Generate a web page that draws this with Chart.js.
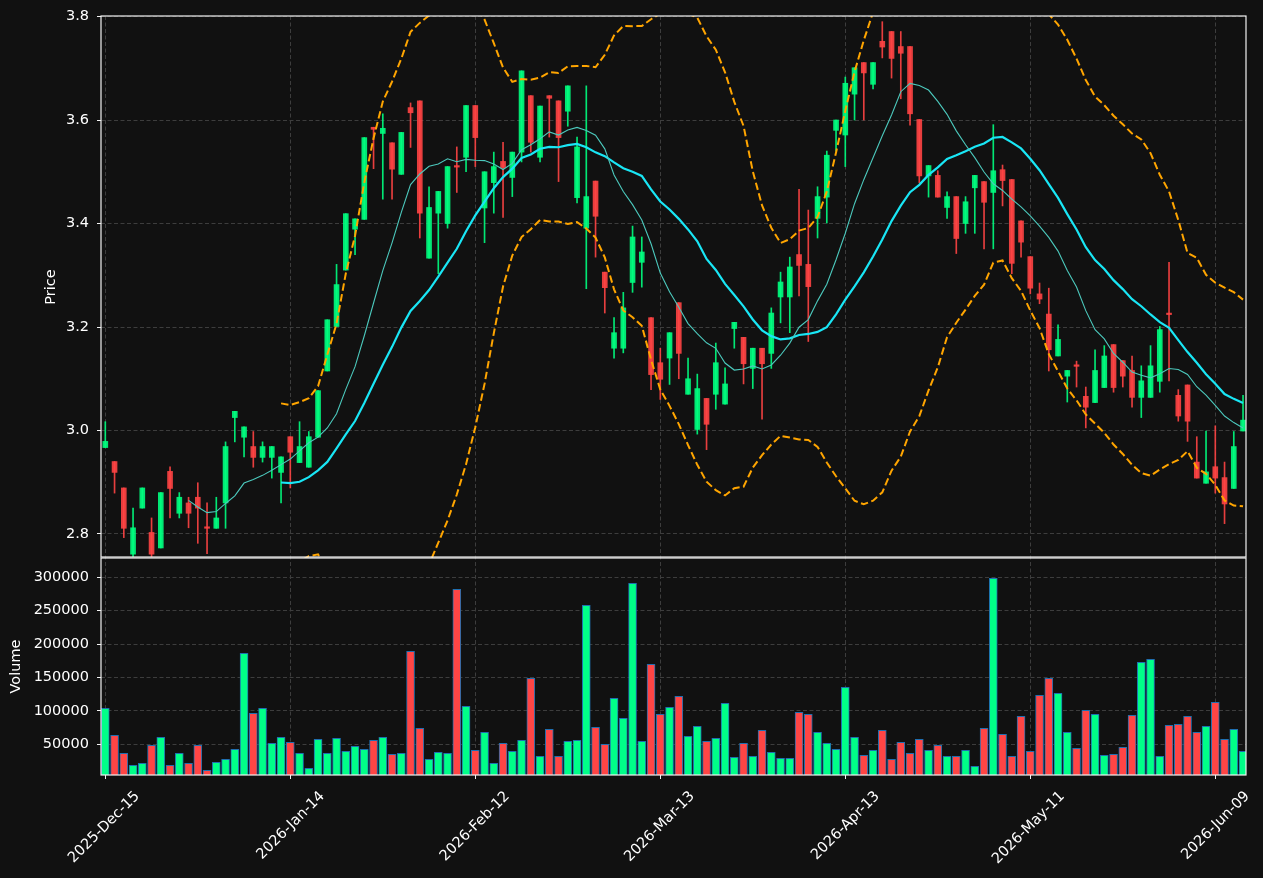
<!DOCTYPE html>
<html>
<head>
<meta charset="utf-8">
<title>Price and Volume</title>
<script src="https://cdn.jsdelivr.net/npm/chart.js@4.4.1/dist/chart.umd.min.js"></script>
<style>
  html, body { margin: 0; padding: 0; background: #111111; }
  canvas { display: block; }
</style>
</head>
<body>
<canvas id="myChart" width="1263" height="878"></canvas>
<script>
'use strict';

// one entry per trading day, 2025-Dec-15 .. 2026-Jun-12
let opens = [
  2.967, 2.940, 2.889, 2.761, 2.850, 2.803, 2.773, 2.921, 2.840, 2.860,
  2.871, 2.813, 2.811, 2.860, 3.025, 2.987, 2.969, 2.948, 2.948, 2.919,
  2.988, 2.938, 2.929, 2.987, 3.115, 3.201, 3.310, 3.389, 3.408, 3.586,
  3.574, 3.556, 3.495, 3.624, 3.637, 3.333, 3.420, 3.400, 3.511, 3.528,
  3.628, 3.430, 3.479, 3.520, 3.489, 3.538, 3.647, 3.528, 3.647, 3.637,
  3.617, 3.450, 3.391, 3.482, 3.306, 3.159, 3.159, 3.286, 3.325, 3.218,
  3.131, 3.140, 3.247, 3.070, 3.002, 3.062, 3.070, 3.051, 3.197, 3.180,
  3.120, 3.159, 3.149, 3.258, 3.258, 3.340, 3.321, 3.410, 3.451, 3.580,
  3.571, 3.650, 3.711, 3.669, 3.752, 3.771, 3.742, 3.742, 3.601, 3.492,
  3.493, 3.431, 3.452, 3.400, 3.469, 3.481, 3.460, 3.504, 3.485, 3.405,
  3.336, 3.264, 3.225, 3.144, 3.105, 3.126, 3.066, 3.054, 3.083, 3.166,
  3.135, 3.116, 3.064, 3.064, 3.095, 3.226, 3.068, 3.088, 2.939, 2.898,
  2.930, 2.909, 2.888, 2.999
];
let highs = [
  3.017, 2.940, 2.889, 2.850, 2.889, 2.831, 2.880, 2.930, 2.880, 2.871,
  2.899, 2.860, 2.871, 2.978, 3.037, 3.007, 2.998, 2.978, 2.969, 2.949,
  2.988, 3.017, 2.998, 3.077, 3.214, 3.321, 3.419, 3.409, 3.566, 3.586,
  3.612, 3.556, 3.576, 3.633, 3.637, 3.471, 3.462, 3.510, 3.548, 3.628,
  3.628, 3.500, 3.538, 3.557, 3.538, 3.695, 3.647, 3.627, 3.647, 3.637,
  3.666, 3.567, 3.666, 3.482, 3.306, 3.218, 3.267, 3.395, 3.374, 3.218,
  3.159, 3.189, 3.247, 3.140, 3.109, 3.062, 3.169, 3.121, 3.209, 3.180,
  3.159, 3.159, 3.237, 3.306, 3.335, 3.466, 3.426, 3.471, 3.540, 3.600,
  3.683, 3.701, 3.711, 3.711, 3.790, 3.771, 3.771, 3.742, 3.601, 3.512,
  3.502, 3.461, 3.452, 3.452, 3.493, 3.481, 3.591, 3.513, 3.485, 3.405,
  3.336, 3.285, 3.275, 3.204, 3.116, 3.134, 3.084, 3.156, 3.164, 3.166,
  3.135, 3.144, 3.125, 3.164, 3.201, 3.325, 3.079, 3.088, 2.988, 2.999,
  3.009, 2.939, 2.998, 3.068
];
let lows = [
  2.967, 2.879, 2.793, 2.756, 2.850, 2.756, 2.773, 2.831, 2.831, 2.812,
  2.782, 2.762, 2.811, 2.811, 2.978, 2.949, 2.929, 2.939, 2.908, 2.860,
  2.889, 2.938, 2.929, 2.987, 3.115, 3.201, 3.310, 3.340, 3.408, 3.506,
  3.447, 3.447, 3.495, 3.547, 3.372, 3.333, 3.303, 3.391, 3.460, 3.500,
  3.510, 3.363, 3.420, 3.412, 3.452, 3.519, 3.538, 3.519, 3.567, 3.481,
  3.588, 3.440, 3.274, 3.335, 3.227, 3.140, 3.150, 3.267, 3.277, 3.079,
  3.060, 3.089, 3.100, 3.070, 2.993, 2.963, 3.041, 3.051, 3.159, 3.090,
  3.081, 3.022, 3.120, 3.208, 3.189, 3.260, 3.172, 3.372, 3.401, 3.540,
  3.510, 3.600, 3.600, 3.660, 3.720, 3.681, 3.641, 3.590, 3.479, 3.451,
  3.451, 3.410, 3.342, 3.381, 3.381, 3.351, 3.351, 3.434, 3.303, 3.335,
  3.264, 3.245, 3.115, 3.144, 3.055, 3.084, 3.005, 3.054, 3.083, 3.074,
  3.084, 3.045, 3.025, 3.064, 3.074, 3.096, 3.018, 2.979, 2.908, 2.898,
  2.879, 2.820, 2.888, 2.999
];
let closes = [
  2.979, 2.919, 2.811, 2.812, 2.889, 2.761, 2.880, 2.888, 2.871, 2.840,
  2.850, 2.811, 2.831, 2.969, 3.037, 3.007, 2.948, 2.969, 2.969, 2.949,
  2.958, 2.969, 2.988, 3.077, 3.214, 3.282, 3.419, 3.409, 3.566, 3.582,
  3.584, 3.505, 3.576, 3.614, 3.420, 3.431, 3.462, 3.510, 3.509, 3.628,
  3.566, 3.500, 3.510, 3.508, 3.538, 3.695, 3.557, 3.627, 3.642, 3.566,
  3.666, 3.548, 3.452, 3.414, 3.276, 3.189, 3.237, 3.374, 3.345, 3.108,
  3.099, 3.189, 3.149, 3.100, 3.081, 3.012, 3.131, 3.090, 3.209, 3.129,
  3.159, 3.129, 3.227, 3.287, 3.316, 3.319, 3.278, 3.452, 3.532, 3.600,
  3.671, 3.701, 3.691, 3.711, 3.741, 3.719, 3.729, 3.612, 3.492, 3.512,
  3.451, 3.452, 3.371, 3.442, 3.493, 3.441, 3.502, 3.483, 3.323, 3.364,
  3.275, 3.254, 3.156, 3.176, 3.116, 3.124, 3.045, 3.116, 3.144, 3.083,
  3.105, 3.064, 3.096, 3.125, 3.195, 3.224, 3.028, 3.018, 2.908, 2.920,
  2.908, 2.858, 2.969, 3.020
];
let volumes = [
  103900, 63500, 36500, 18600, 21600, 48500, 60500, 18600, 36500, 21600,
  48500, 11100, 23100, 27500, 42500, 186200, 96400, 103900, 51500, 60500,
  53000, 36500, 14100, 57500, 36500, 59000, 39500, 47000, 42500, 56000,
  60500, 35000, 36500, 189200, 74000, 27500, 38000, 36500, 282000, 106900,
  41000, 68000, 21600, 51500, 39500, 56000, 148800, 32000, 72500, 32000,
  54500, 56000, 258100, 75400, 50000, 118900, 88900, 291000, 54500, 169800,
  94900, 105400, 121900, 62000, 76900, 54500, 59000, 111400, 30500, 51500,
  32000, 71000, 38000, 29000, 29000, 97900, 94900, 68000, 51500, 42500,
  135300, 60500, 33500, 41000, 71000, 27500, 53000, 36500, 57500, 41000,
  48500, 32000, 32000, 41000, 17100, 74000, 298500, 65000, 32000, 91900,
  39500, 123400, 148800, 126300, 68000, 44000, 100900, 94900, 33500, 35000,
  45500, 93400, 172800, 177200, 32000, 78400, 79900, 91900, 68000, 76900,
  112900, 57500, 72500, 39500
];

let tickIndex = [0, 20, 40, 60, 80, 100, 120];
let tickDates = ['2025-Dec-15', '2026-Jan-14', '2026-Feb-12', '2026-Mar-13', '2026-Apr-13', '2026-May-11', '2026-Jun-09'];
let priceTicks = [2.8, 3.0, 3.2, 3.4, 3.6, 3.8];
let volumeTicks = [50000, 100000, 150000, 200000, 250000, 300000];

let upCandle = 'rgba(0, 255, 128, 0.9)';
let downCandle = 'rgba(255, 68, 68, 0.9)';
let upVolume = '#00ff88';
let downVolume = '#ff4545';
let textColor = '#ffffff';
let gridColor = '#3d3d3d';
let frameColor = '#f2f2f2';
let tickFont = { family: 'DejaVu Sans', size: 14.5 };

function movingAverage(values, period) {
  let out = [];
  for (let i = period - 1; i < values.length; i++) {
    let sum = 0;
    for (let j = i - period + 1; j <= i; j++) {
      sum += values[j];
    }
    out.push({ x: i, y: sum / period });
  }
  return out;
}

function bollinger(values, period, k, side) {
  let out = [];
  for (let i = period - 1; i < values.length; i++) {
    let sum = 0;
    for (let j = i - period + 1; j <= i; j++) {
      sum += values[j];
    }
    let mean = sum / period;
    let sq = 0;
    for (let j = i - period + 1; j <= i; j++) {
      sq += (values[j] - mean) * (values[j] - mean);
    }
    let sd = Math.sqrt(sq / (period - 1));
    out.push({ x: i, y: mean + side * k * sd });
  }
  return out;
}

let wickData = [];
let bodyData = [];
let volumeData = [];
let candleColors = [];
let volumeColors = [];
for (let i = 0; i < closes.length; i++) {
  let up = closes[i] >= opens[i];
  wickData.push({ x: i, y: [lows[i], highs[i]] });
  bodyData.push({ x: i, y: [opens[i], closes[i]] });
  volumeData.push({ x: i, y: volumes[i] });
  candleColors.push(up ? upCandle : downCandle);
  volumeColors.push(up ? upVolume : downVolume);
}

// keep each dataset inside its own panel
let panelClip = {
  id: 'panelClip',
  beforeDatasetDraw(chart, args) {
    let area = chart.chartArea;
    let ys = args.meta.yScale;
    chart.ctx.save();
    chart.ctx.beginPath();
    chart.ctx.rect(area.left, ys.top, area.right - area.left, ys.bottom - ys.top);
    chart.ctx.clip();
  },
  afterDatasetDraw(chart) {
    chart.ctx.restore();
  }
};

let panelFrame = {
  id: 'panelFrame',
  afterDraw(chart) {
    let ctx = chart.ctx;
    let area = chart.chartArea;
    ctx.save();
    ctx.strokeStyle = frameColor;
    ctx.lineWidth = 1.2;
    let p = chart.scales.y;
    let v = chart.scales.yv;
    ctx.strokeRect(area.left, p.top, area.right - area.left, p.bottom - p.top - 1);
    ctx.strokeRect(area.left, v.top, area.right - area.left, v.bottom - v.top);
    ctx.restore();
  }
};

let ctx = document.getElementById('myChart').getContext('2d');
let myChart = new Chart(ctx, { //eslint-disable-line
  type: 'bar',
  data: {
    datasets: [
      {
        type: 'line', label: 'MA10', data: movingAverage(closes, 10), yAxisID: 'y',
        borderColor: '#4cc9bd', borderWidth: 1.1, pointRadius: 0, tension: 0, order: 0
      },
      {
        type: 'line', label: 'MA20', data: movingAverage(closes, 20), yAxisID: 'y',
        borderColor: '#19e6f5', borderWidth: 2.2, pointRadius: 0, tension: 0, order: 0
      },
      {
        type: 'line', label: 'Upper', data: bollinger(closes, 20, 2, 1), yAxisID: 'y',
        borderColor: '#ffa500', borderWidth: 2, borderDash: [7.5, 3.5], pointRadius: 0, tension: 0, order: 0
      },
      {
        type: 'line', label: 'Lower', data: bollinger(closes, 20, 2, -1), yAxisID: 'y',
        borderColor: '#ffa500', borderWidth: 2, borderDash: [7.5, 3.5], pointRadius: 0, tension: 0, order: 0
      },
      {
        label: 'Body', data: bodyData, yAxisID: 'y', backgroundColor: candleColors,
        barThickness: 5, minBarLength: 1.5, grouped: false, order: 1
      },
      {
        label: 'Wick', data: wickData, yAxisID: 'y', backgroundColor: candleColors,
        barThickness: 1, grouped: false, order: 2
      },
      {
        label: 'Volume', data: volumeData, yAxisID: 'yv', backgroundColor: volumeColors,
        borderColor: '#1f6fb0', borderWidth: 1, barThickness: 8, grouped: false, order: 3
      }
    ]
  },
  options: {
    responsive: false,
    animation: false,
    layout: { padding: { left: 0, right: 17, top: 16, bottom: 0 } },
    plugins: { legend: { display: false }, tooltip: { enabled: false } },
    scales: {
      x: {
        type: 'linear', min: -0.465, max: 123.32, offset: false,
        grid: { color: gridColor, offset: false, tickColor: frameColor, tickLength: 4, tickWidth: 1 },
        border: { display: false, dash: [4, 2.5] },
        ticks: {
          color: textColor, font: tickFont, minRotation: 45, maxRotation: 45,
          autoSkip: false, padding: 9, labelOffset: 32,
          callback: function (value) {
            return tickDates[tickIndex.indexOf(value)];
          }
        },
        afterBuildTicks: function (scale) {
          scale.ticks = tickIndex.map(v => ({ value: v }));
        },
        afterFit: function (scale) {
          scale.height = 103;
          scale.paddingLeft = 0;
          scale.paddingRight = 0;
        }
      },
      yv: {
        type: 'linear', position: 'left', stack: 'panels', stackWeight: 217,
        min: 4040, max: 328900, beginAtZero: false,
        grid: { color: gridColor, tickColor: frameColor, tickLength: 4, tickWidth: 1 },
        border: { display: false, dash: [4, 2.5] },
        ticks: {
          color: textColor, font: tickFont, padding: 8,
          callback: function (value) {
            return String(value);
          }
        },
        afterBuildTicks: function (scale) {
          scale.ticks = volumeTicks.map(v => ({ value: v }));
        },
        title: { display: true, text: 'Volume', color: textColor, font: tickFont, padding: { top: 8, bottom: 0 } },
        afterFit: function (scale) {
          scale.width = 101;
          scale.paddingTop = 0;
          scale.paddingBottom = 0;
        }
      },
      y: {
        type: 'linear', position: 'left', stack: 'panels', stackWeight: 542,
        min: 2.7536, max: 3.801, beginAtZero: false,
        grid: { color: gridColor, tickColor: frameColor, tickLength: 4, tickWidth: 1 },
        border: { display: false, dash: [4, 2.5] },
        ticks: {
          color: textColor, font: tickFont, padding: 8,
          callback: function (value) {
            return value.toFixed(1);
          }
        },
        afterBuildTicks: function (scale) {
          scale.ticks = priceTicks.map(v => ({ value: v }));
        },
        title: { display: true, text: 'Price', color: textColor, font: tickFont, padding: { top: 43, bottom: 0 } },
        afterFit: function (scale) {
          scale.width = 101;
          scale.paddingTop = 0;
          scale.paddingBottom = 0;
        }
      }
    }
  },
  plugins: [panelClip, panelFrame]
});
</script>
</body>
</html>
